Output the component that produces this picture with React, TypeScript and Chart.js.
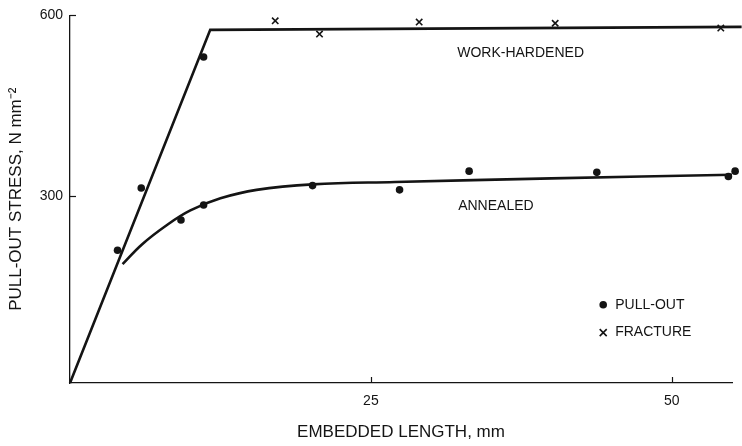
import React, { useEffect, useRef } from "react";
import { Chart, registerables } from "chart.js";

Chart.register(...registerables);

// ---- data ----
const pullOutX = [3.95, 5.92, 9.22, 11.1, 11.1, 20.15, 27.38, 33.16, 43.77, 54.7, 55.26, 55.67];
const pullOutY = [211, 314, 261, 531, 286, 318, 311, 342, 340, 333, 342, 330];

const fractureX = [17.05, 20.73, 29.01, 40.31, 54.07];
const fractureY = [591, 569, 589, 587, 579];

const hardenedX = [0, 11.65, 55.8];
const hardenedY = [-9, 576, 581];

const annealedX = [4.37, 6.0, 8.0, 10.0, 12.5, 15.5, 20.15, 27.0, 40.0, 55.0];
const annealedY = [188, 221, 252, 277, 297, 311, 320, 324, 330, 336];

const xTickValues = [25, 50];
const yTickValues = [300, 600];

const xTitle = "EMBEDDED LENGTH, mm";
const yTitle = "PULL-OUT STRESS, N mm\u207B\u00B2";

const curveLabels = [
  { text: "WORK-HARDENED", x: 32.17, y: 537 },
  { text: "ANNEALED", x: 32.25, y: 283.5 },
];
const legendItems = [
  { text: "PULL-OUT", marker: "dot", x: 44.3, y: 120.7 },
  { text: "FRACTURE", marker: "cross", x: 44.3, y: 74.5 },
];

const FONT = '"Liberation Sans", Arial, Helvetica, sans-serif';
const INK = "#141414";

const zip = (xs: number[], ys: number[]) => xs.map((v, i) => ({ x: v, y: ys[i] }));

const overlayPlugin = {
  id: "overlay",
  afterDatasetsDraw(chart: any) {
    const { ctx, chartArea, scales } = chart;
    const xs = scales.x;
    const ys = scales.y;
    ctx.save();
    // inward tick marks
    ctx.strokeStyle = INK;
    ctx.lineWidth = 1.2;
    for (const v of xTickValues) {
      const px = Math.round(xs.getPixelForValue(v)) + 0.5;
      ctx.beginPath();
      ctx.moveTo(px, chartArea.bottom);
      ctx.lineTo(px, chartArea.bottom - 6);
      ctx.stroke();
    }
    for (const v of yTickValues) {
      const py = Math.round(ys.getPixelForValue(v)) + 0.5;
      ctx.beginPath();
      ctx.moveTo(chartArea.left, py);
      ctx.lineTo(chartArea.left + 6, py);
      ctx.stroke();
    }
    // curve labels
    ctx.fillStyle = INK;
    ctx.font = `14px ${FONT}`;
    ctx.textBaseline = "middle";
    ctx.textAlign = "left";
    for (const l of curveLabels) {
      ctx.fillText(l.text, xs.getPixelForValue(l.x), ys.getPixelForValue(l.y));
    }
    // legend
    for (const it of legendItems) {
      const px = xs.getPixelForValue(it.x);
      const py = ys.getPixelForValue(it.y);
      if (it.marker === "dot") {
        ctx.beginPath();
        ctx.arc(px, py, 3.8, 0, Math.PI * 2);
        ctx.fill();
      } else {
        const s = 3.5;
        ctx.lineWidth = 1.6;
        ctx.beginPath();
        ctx.moveTo(px - s, py - s);
        ctx.lineTo(px + s, py + s);
        ctx.moveTo(px - s, py + s);
        ctx.lineTo(px + s, py - s);
        ctx.stroke();
      }
      ctx.fillText(it.text, px + 12, py);
    }
    ctx.restore();
  },
};

export default function App() {
  const ref = useRef<HTMLCanvasElement | null>(null);

  useEffect(() => {
    if (!ref.current) return;
    const chart = new Chart(ref.current, {
      type: "scatter",
      data: {
        datasets: [
          {
            label: "WORK-HARDENED",
            data: zip(hardenedX, hardenedY),
            showLine: true,
            borderColor: INK,
            borderWidth: 2.6,
            pointRadius: 0,
            clip: false,
          } as any,
          {
            label: "ANNEALED",
            data: zip(annealedX, annealedY),
            showLine: true,
            borderColor: INK,
            borderWidth: 2.6,
            pointRadius: 0,
            tension: 0.4,
            clip: false,
          } as any,
          {
            label: "PULL-OUT",
            data: zip(pullOutX, pullOutY),
            pointStyle: "circle",
            pointRadius: 3.8,
            backgroundColor: INK,
            borderColor: INK,
            borderWidth: 0,
            clip: false,
          } as any,
          {
            label: "FRACTURE",
            data: zip(fractureX, fractureY),
            pointStyle: "crossRot",
            pointRadius: 4.5,
            borderColor: INK,
            borderWidth: 1.6,
            clip: false,
          } as any,
        ],
      },
      options: {
        animation: false,
        responsive: false,
        layout: { padding: { top: 14, right: 10, left: 0, bottom: 0 } },
        plugins: {
          legend: { display: false },
          tooltip: { enabled: false },
        },
        scales: {
          x: {
            type: "linear",
            min: 0,
            max: 55,
            afterBuildTicks: (s: any) => {
              s.ticks = xTickValues.map((v) => ({ value: v }));
            },
            afterFit: (s: any) => {
              s.height = 63;
            },
            grid: { display: false, drawTicks: false },
            border: { display: true, color: INK, width: 1.3 },
            ticks: {
              padding: 10,
              color: INK,
              font: { family: FONT, size: 14 },
              callback: (v: any) => String(v),
            },
            title: {
              display: true,
              text: xTitle,
              color: INK,
              font: { family: FONT, size: 17 },
              padding: { top: 0, bottom: 3 },
            },
          },
          y: {
            type: "linear",
            min: -9,
            max: 600,
            afterBuildTicks: (s: any) => {
              s.ticks = yTickValues.map((v) => ({ value: v }));
            },
            afterFit: (s: any) => {
              s.width = 70;
            },
            grid: { display: false, drawTicks: false },
            border: { display: true, color: INK, width: 1.3 },
            ticks: {
              padding: 7,
              color: INK,
              font: { family: FONT, size: 14 },
              callback: (v: any) => String(v),
            },
            title: {
              display: true,
              text: yTitle,
              color: INK,
              font: { family: FONT, size: 17 },
              padding: { top: 6, bottom: 0 },
            },
          },
        },
      },
      plugins: [overlayPlugin],
    } as any);
    return () => chart.destroy();
  }, []);

  return (
    <div style={{ position: "fixed", left: 0, top: 0, width: 742, height: 446, background: "#fff" }}>
      <canvas ref={ref} width={742} height={446} style={{ width: 742, height: 446, display: "block" }} />
    </div>
  );
}
